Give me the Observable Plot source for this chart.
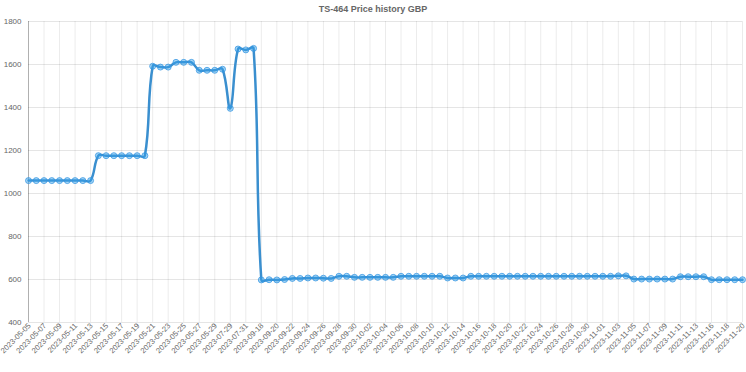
<!DOCTYPE html>
<html><head><meta charset="utf-8">
<script src="https://cdn.jsdelivr.net/npm/d3@7"></script>
<script src="https://cdn.jsdelivr.net/npm/@observablehq/plot@0.6"></script>
<style>
body{margin:0;background:#fff;font-family:"Liberation Sans",Arial,sans-serif}
#wrap{position:relative;width:746px;height:372px}
#title{position:absolute;left:0;top:4px;width:746px;text-align:center;font-size:9px;font-weight:bold;color:#666;line-height:11px}
</style></head>
<body><div id="wrap"><div id="title">TS-464 Price history GBP</div></div>
<script>
const dates = [
"2023-05-05","2023-05-06","2023-05-07","2023-05-08","2023-05-09","2023-05-10","2023-05-11","2023-05-12","2023-05-13","2023-05-14",
"2023-05-15","2023-05-16","2023-05-17","2023-05-18","2023-05-19","2023-05-20","2023-05-21","2023-05-22","2023-05-23","2023-05-24",
"2023-05-25","2023-05-26","2023-05-27","2023-05-28","2023-05-29","2023-05-30","2023-07-29","2023-07-30","2023-07-31","2023-08-01",
"2023-09-18","2023-09-19","2023-09-20","2023-09-21","2023-09-22","2023-09-23","2023-09-24","2023-09-25","2023-09-26","2023-09-27",
"2023-09-28","2023-09-29","2023-09-30","2023-10-01","2023-10-02","2023-10-03","2023-10-04","2023-10-05","2023-10-06","2023-10-07",
"2023-10-08","2023-10-09","2023-10-10","2023-10-11","2023-10-12","2023-10-13","2023-10-14","2023-10-15","2023-10-16","2023-10-17",
"2023-10-18","2023-10-19","2023-10-20","2023-10-21","2023-10-22","2023-10-23","2023-10-24","2023-10-25","2023-10-26","2023-10-27",
"2023-10-28","2023-10-29","2023-10-30","2023-10-31","2023-11-01","2023-11-02","2023-11-03","2023-11-04","2023-11-05","2023-11-06",
"2023-11-07","2023-11-08","2023-11-09","2023-11-10","2023-11-11","2023-11-12","2023-11-13","2023-11-14","2023-11-16","2023-11-17",
"2023-11-18","2023-11-19","2023-11-20"
];
const prices = [
1060,1060,1060,1060,1060,1060,1060,1060,1060,1176,
1176,1176,1176,1176,1176,1176,1592,1588,1588,1610,
1610,1610,1573,1573,1573,1578,1396,1672,1668,1675,
598,599,598,600,605,605,607,607,606,605,
615,615,610,610,610,610,610,610,615,615,
615,615,615,615,607,607,607,615,615,615,
615,615,615,615,615,615,615,615,615,615,
615,615,615,615,615,615,617,617,602,602,
602,602,602,602,613,613,613,613,599,599,
599,599,599
];
const yTicks = [400,600,800,1000,1200,1400,1600,1800];
const xTicks = dates.filter((d,i)=>i%2===0);

const data = dates.map((d,i)=>({date:d, price:prices[i]}));

// Chart.js-style spline (tension 0.4)
function ChartJsCurve(context){ this._context = context; }
ChartJsCurve.prototype = {
  areaStart(){}, areaEnd(){},
  lineStart(){ this._pts = []; },
  point(x,y){ this._pts.push([+x,+y]); },
  lineEnd(){
    const p = this._pts, n = p.length, t = 0.4;
    if (!n) return;
    const cp = p.map((c,i)=>{
      const pr = p[Math.max(0,i-1)], nx = p[Math.min(n-1,i+1)];
      const d01 = Math.hypot(c[0]-pr[0], c[1]-pr[1]);
      const d12 = Math.hypot(nx[0]-c[0], nx[1]-c[1]);
      let s01 = d01/(d01+d12), s12 = d12/(d01+d12);
      if (isNaN(s01)) s01 = 0; if (isNaN(s12)) s12 = 0;
      const fa = t*s01, fb = t*s12;
      return {px:c[0]-fa*(nx[0]-pr[0]), py:c[1]-fa*(nx[1]-pr[1]),
              nx:c[0]+fb*(nx[0]-pr[0]), ny:c[1]+fb*(nx[1]-pr[1])};
    });
    const ctx = this._context;
    ctx.moveTo(p[0][0], p[0][1]);
    for (let i=1;i<n;i++) ctx.bezierCurveTo(cp[i-1].nx, cp[i-1].ny, cp[i].px, cp[i].py, p[i][0], p[i][1]);
  }
};
const chartCurve = ctx => new ChartJsCurve(ctx);

const chart = Plot.plot({
  width: 746, height: 372,
  marginLeft: 28, marginRight: 4, marginTop: 21, marginBottom: 50,
  style: {fontFamily: "'Liberation Sans', Arial, sans-serif", fontSize: "8px", color: "#666", background: "transparent"},
  x: {type: "point", domain: dates, padding: 0, label: null},
  y: {domain: [400, 1800], label: null},
  marks: [
    Plot.gridX(xTicks, {stroke: "#000", strokeOpacity: 0.08}),
    Plot.gridY(yTicks, {stroke: "#000", strokeOpacity: 0.1}),
    Plot.ruleX([dates[0]], {stroke: "#000", strokeOpacity: 0.25}),
    Plot.axisY(yTicks, {tickSize: 0, tickPadding: 7, fill: "#666", tickFormat: d => String(d)}),
    Plot.axisX(xTicks, {tickSize: 0, tickPadding: 2, tickRotate: -45, fill: "#666", fontSize: 7.6, dx: 1}),
    Plot.line(data, {x: "date", y: "price", stroke: "#3a8fcf", strokeWidth: 2.5, curve: chartCurve}),
    Plot.dot(data, {x: "date", y: "price", r: 3, fill: "rgba(54,162,235,0.45)", stroke: "rgba(54,150,225,0.75)", strokeWidth: 1})
  ]
});
document.getElementById("wrap").appendChild(chart);
</script>
</body></html>
